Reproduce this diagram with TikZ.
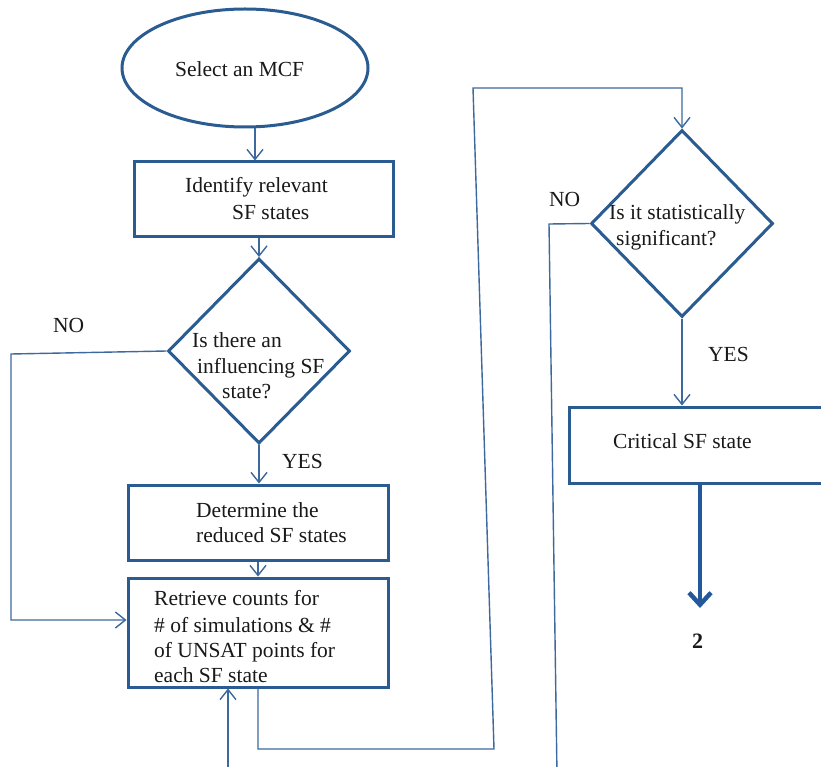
\documentclass[tikz,border=0pt]{standalone}
\usepackage{fontspec}
\setmainfont{Liberation Serif}
\usetikzlibrary{shapes.geometric,arrows.meta}
\definecolor{boxc}{RGB}{42,92,145}
\definecolor{linec}{RGB}{60,105,158}
\definecolor{thickc}{RGB}{35,88,155}
\begin{document}
\begin{tikzpicture}[x=1pt,y=-1pt,
  shapebox/.style={draw=boxc,line width=3pt,inner sep=0pt},
  conn/.style={draw=linec,line width=1.4pt},
  arr/.style={conn,-{Straight Barb[length=10pt,width=16pt]}},
  bigarr/.style={draw=thickc,line width=4.5pt,-{Straight Barb[length=12pt,width=22pt]}},
  txt/.style={anchor=base west,inner sep=0pt,font=\fontsize{21.5}{25}\selectfont,text=black!90}]
\clip (0,0) rectangle (821,767);
\fill[white] (0,0) rectangle (821,767);
% shapes
\node[shapebox,ellipse,minimum width=246pt,minimum height=118pt] (ell) at (245,68) {};
\node[shapebox,rectangle,minimum width=259pt,minimum height=75pt] (b1) at (263.5,199.5) {};
\node[shapebox,diamond,minimum width=182pt,minimum height=185pt] (d1) at (259,351) {};
\node[shapebox,rectangle,minimum width=260pt,minimum height=75pt] (b2) at (258,522.5) {};
\node[shapebox,rectangle,minimum width=260pt,minimum height=109pt] (b3) at (258,632.5) {};
\node[shapebox,diamond,minimum width=182pt,minimum height=187pt] (d2) at (682,223.5) {};
\node[shapebox,rectangle,minimum width=262pt,minimum height=76pt] (b4) at (700,445) {};
% texts
\node[txt] (t0) at (175,77) {Select an MCF};
\node[txt] (t1a) at (185,193) {Identify relevant};
\node[txt] (t1b) at (232,220) {SF states};
\node[txt] (t2a) at (192,347) {Is there an};
\node[txt] (t2b) at (197,373) {influencing SF};
\node[txt] (t2c) at (222,398) {state?};
\node[txt] (no1) at (53,332) {NO};
\node[txt] (yes1) at (282,468) {YES};
\node[txt] (t3a) at (196,517) {Determine the};
\node[txt] (t3b) at (196,542) {reduced SF states};
\node[txt] (t4a) at (154,605) {Retrieve counts for};
\node[txt] (t4b) at (154,632) {\# of simulations \& \#};
\node[txt] (t4c) at (154,657) {of UNSAT points for};
\node[txt] (t4d) at (154,682) {each SF state};
\node[txt] (t5a) at (609,220) {Is it statistically};
\node[txt] (t5b) at (616,245) {significant?};
\node[txt] (no2) at (549,207) {NO};
\node[txt] (yes2) at (708,361) {YES};
\node[txt] (t6) at (613,448) {Critical SF state};
\node[txt,font=\fontsize{22}{25}\selectfont\bfseries] (two) at (692,648) {2};
% coordinates
\coordinate (c1) at (11,354);
\coordinate (c2) at (11,620);
\coordinate (c3) at (228,775);
\coordinate (c4) at (258,749);
\coordinate (c5) at (494,749);
\coordinate (c6) at (473,88);
\coordinate (c7) at (682,88);
\coordinate (c8) at (549,224);
\coordinate (c9) at (557,775);
\coordinate (c10) at (700,608);
% connectors
\draw[arr] ([xshift=10pt]ell.south) -- ([xshift=10pt]ell.south |- b1.north);
\draw[arr] (b1.south -| d1.north) -- (d1.north);
\draw[arr] (d1.south) -- (d1.south |- b2.north);
\draw[arr] (b2.south) -- (b3.north);
\draw[arr] (d1.west) -- (c1) -- (c2) -- (c2 -| b3.west);
\draw[arr] (c3) -- (c3 |- b3.south);
\draw[arr] (b3.south) -- (c4) -- (c5) -- (c6) -- (c7) -- (d2.north);
\draw[conn] (d2.west) -- (c8) -- (c9);
\draw[arr] (d2.south) -- (d2.south |- b4.north);
\draw[bigarr] (b4.south) -- (c10);
\end{tikzpicture}
\end{document}
